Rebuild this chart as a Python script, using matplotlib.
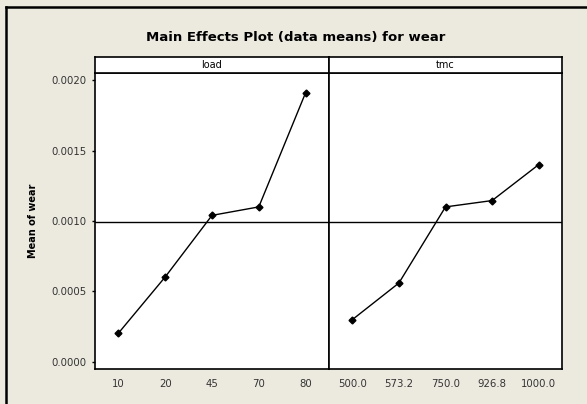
import matplotlib.pyplot as plt
from matplotlib.lines import Line2D

# data
load_levels = ["10", "20", "45", "70", "80"]
load_means = [0.000204, 0.000603, 0.00104, 0.00110, 0.00191]
tmc_levels = ["500.0", "573.2", "750.0", "926.8", "1000.0"]
tmc_means = [0.00030, 0.00056, 0.00110, 0.001145, 0.00140]
grand_mean = 0.00099
y_ticks = [0.0000, 0.0005, 0.0010, 0.0015, 0.0020]

bg = "#ECE9DF"
fig = plt.figure(figsize=(5.87, 4.04), dpi=100, facecolor=bg)

# outer frame (top and left edges visible in the crop)
fig.add_artist(Line2D([0.0102, 0.0102], [0, 0.982], transform=fig.transFigure,
                      color="black", lw=1.8))
fig.add_artist(Line2D([0.0102, 1], [0.982, 0.982], transform=fig.transFigure,
                      color="black", lw=1.8))

bottom, height = 1 - 369 / 404, (369 - 73) / 404
strip_h = 16 / 404
panels = [
    (95 / 587, 234 / 587, "load", load_levels, load_means),
    (329 / 587, 233 / 587, "tmc", tmc_levels, tmc_means),
]

for i, (left, width, name, levels, means) in enumerate(panels):
    ax = fig.add_axes([left, bottom, width, height])
    x = range(1, len(levels) + 1)
    ax.plot(x, means, color="black", lw=1.0, marker="D", ms=3.5,
            markeredgecolor="black")
    ax.axhline(grand_mean, color="black", lw=1.0)
    ax.set_xlim(0.5, len(levels) + 0.5)
    ax.set_ylim(-0.00005, 0.00205)
    ax.set_xticks(list(x))
    ax.set_xticklabels(levels, fontsize=7.3, color="#333333")
    ax.tick_params(axis="x", length=0, pad=7)
    if i == 0:
        ax.set_yticks(y_ticks)
        ax.set_yticklabels([f"{v:.4f}" for v in y_ticks], fontsize=7.3,
                           color="#333333")
        ax.tick_params(axis="y", length=2, width=1, pad=4)
        ax.set_ylabel("Mean of wear", fontsize=7, fontweight="bold",
                      labelpad=10)
    else:
        ax.set_yticks([])
    for s in ax.spines.values():
        s.set_linewidth(1.2)

    # strip header
    sax = fig.add_axes([left, bottom + height, width, strip_h])
    sax.set_xticks([])
    sax.set_yticks([])
    sax.set_facecolor("white")
    for s in sax.spines.values():
        s.set_linewidth(1.2)
    sax.text(0.5, 0.5, name, ha="center", va="center", fontsize=7,
             transform=sax.transAxes)

fig.text(296 / 587, 1 - 41 / 404, "Main Effects Plot (data means) for wear",
         ha="center", va="baseline", fontsize=9.5, fontweight="bold")

fig.savefig("out.png", dpi=100, facecolor=bg)
